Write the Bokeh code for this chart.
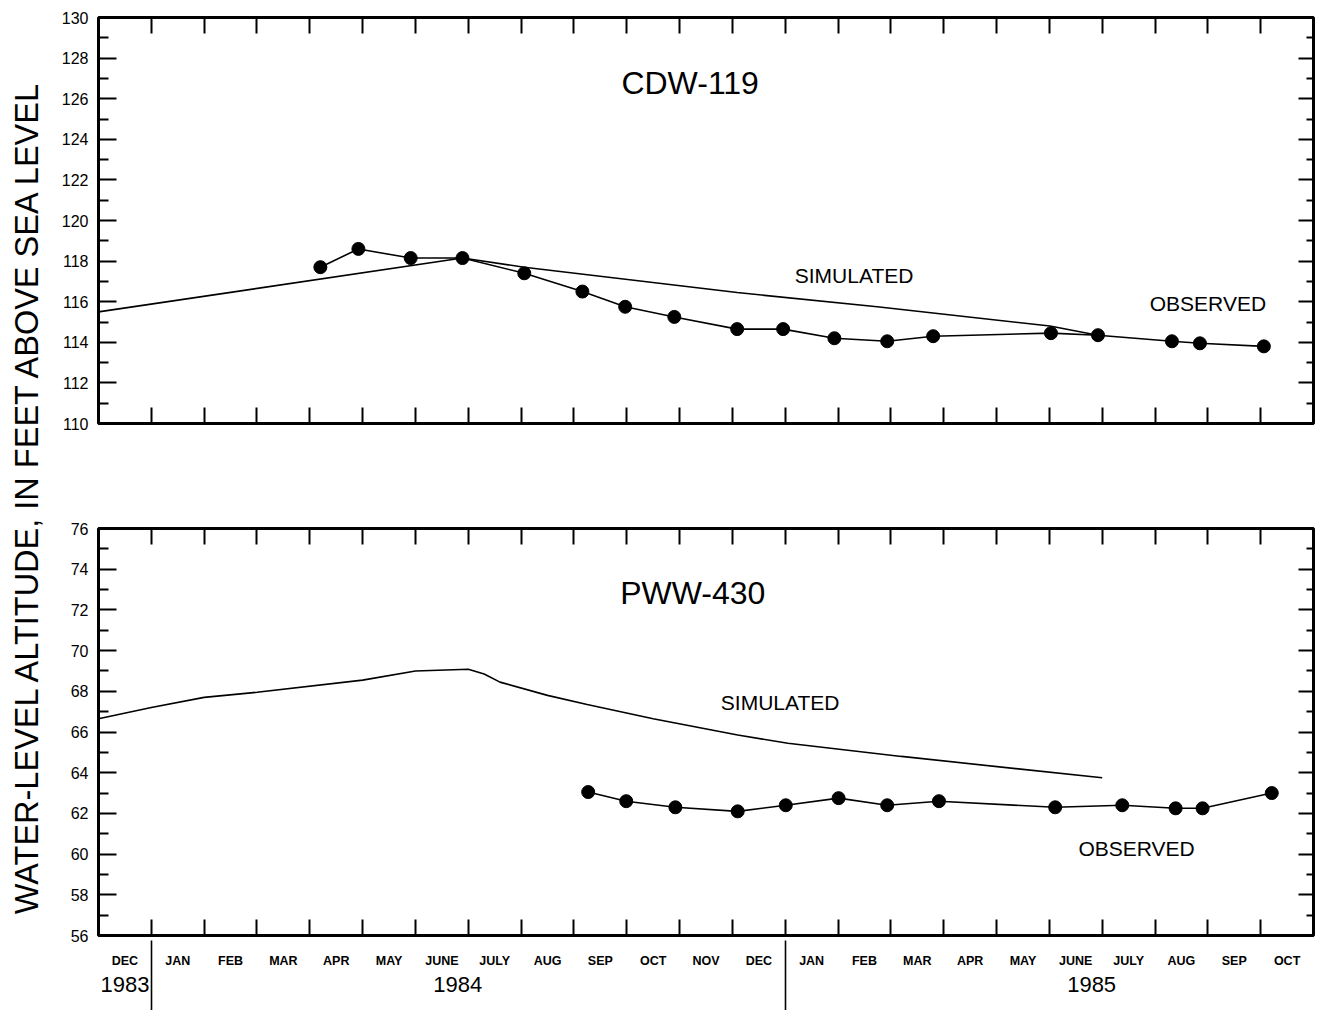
from math import pi
from bokeh.plotting import figure
from bokeh.layouts import row, column
from bokeh.models import Range1d, FixedTicker, LinearAxis, Label
from bokeh.embed import file_html
from bokeh.resources import INLINE

FONT = "Liberation Sans"

# ---- data (x = months after 1 Dec 1983) ----
month_labels = ["DEC", "JAN", "FEB", "MAR", "APR", "MAY", "JUNE", "JULY", "AUG", "SEP",
                "OCT", "NOV", "DEC", "JAN", "FEB", "MAR", "APR", "MAY", "JUNE", "JULY",
                "AUG", "SEP", "OCT"]
month_bounds = list(range(1, 23))
year_labels = ["1983", "1984", "1985"]
year_label_at = [0.5, 6.8, 18.8]
year_breaks = [1, 13]

cdw_obs_t = [4.20, 4.92, 5.91, 6.89, 8.06, 9.16, 9.97, 10.90, 12.09, 12.96, 13.93, 14.93,
             15.80, 18.03, 18.92, 20.32, 20.85, 22.06]
cdw_obs_v = [117.7, 118.6, 118.15, 118.15, 117.4, 116.5, 115.75, 115.25, 114.65, 114.65,
             114.2, 114.05, 114.3, 114.45, 114.35, 114.05, 113.95, 113.8]
cdw_sim_t = [0.0, 6.89, 8.06, 12.09, 14.74, 18.01, 18.92]
cdw_sim_v = [115.5, 118.15, 117.7, 116.45, 115.75, 114.8, 114.35]

pww_obs_t = [9.27, 9.99, 10.92, 12.10, 13.01, 14.01, 14.93, 15.91, 18.11, 19.38, 20.39,
             20.90, 22.21]
pww_obs_v = [63.05, 62.6, 62.3, 62.1, 62.4, 62.75, 62.4, 62.6, 62.3, 62.4, 62.25, 62.25, 63.0]
pww_sim_t = [0.0, 1.0, 2.0, 3.0, 5.0, 6.0, 7.0, 7.3, 7.6, 8.5, 9.25, 10.5, 12.1, 13.05,
             15.2, 19.0]
pww_sim_v = [66.65, 67.2, 67.7, 67.95, 68.55, 69.0, 69.08, 68.85, 68.45, 67.8, 67.35, 66.65,
             65.85, 65.45, 64.8, 63.75]

cdw_ticks = list(range(110, 131, 2))
cdw_minor = list(range(111, 130, 2))
pww_ticks = list(range(56, 77, 2))
pww_minor = list(range(57, 76, 2))

FRAME_W = 1215


def frame_x_axis(p, place, **kw):
    ax = LinearAxis(ticker=FixedTicker(ticks=[], minor_ticks=month_bounds),
                    axis_line_color=None, major_tick_in=0, major_tick_out=0,
                    minor_tick_in=16, minor_tick_out=0, minor_tick_line_width=2,
                    major_label_standoff=0, **kw)
    p.add_layout(ax, place)
    return ax


def make_panel(ticks, minor, frame_h, top, bottom):
    p = figure(frame_width=FRAME_W, frame_height=frame_h,
               x_range=Range1d(0, 23), y_range=Range1d(ticks[0], ticks[-1]),
               x_axis_location=None, y_axis_location=None,
               output_backend="svg", toolbar_location=None,
               min_border_left=48, min_border_right=8,
               min_border_top=top, min_border_bottom=bottom)
    p.xgrid.visible = False
    p.ygrid.visible = False
    p.outline_line_color = "black"
    p.outline_line_width = 3
    p.background_fill_color = "white"
    p.border_fill_color = "white"

    left = LinearAxis(ticker=FixedTicker(ticks=ticks, minor_ticks=minor),
                      axis_line_color=None, major_tick_in=18, major_tick_out=0,
                      minor_tick_in=10, minor_tick_out=0,
                      major_tick_line_width=2, minor_tick_line_width=2,
                      major_label_standoff=10,
                      major_label_text_font=FONT, major_label_text_font_size="16px",
                      major_label_text_color="black")
    p.add_layout(left, "left")
    right = LinearAxis(ticker=FixedTicker(ticks=ticks, minor_ticks=minor),
                       axis_line_color=None, major_tick_in=15, major_tick_out=0,
                       minor_tick_in=7, minor_tick_out=0,
                       major_tick_line_width=2, minor_tick_line_width=2,
                       major_label_standoff=0,
                       major_label_overrides={t: "" for t in ticks})
    p.add_layout(right, "right")
    frame_x_axis(p, "above")
    return p


def annotate(p, x, y, text, size):
    p.add_layout(Label(x=x, y=y, text=text, text_font=FONT, text_font_size=size,
                       text_align="left", text_baseline="middle", text_color="black"))


# ---- top panel: CDW-119 ----
p1 = make_panel(cdw_ticks, cdw_minor, 406, 17, 50)
frame_x_axis(p1, "below")
p1.line(cdw_sim_t, cdw_sim_v, line_color="black", line_width=1.6)
p1.line(cdw_obs_t, cdw_obs_v, line_color="black", line_width=1.6)
p1.scatter(cdw_obs_t, cdw_obs_v, size=13, color="black")
p1.add_layout(Label(x=11.2, y=126.75, text="CDW-119", text_font=FONT, text_font_size="32px",
                    text_align="center", text_baseline="middle", text_color="black"))
annotate(p1, 13.18, 117.3, "SIMULATED", "21px")
annotate(p1, 19.9, 115.9, "OBSERVED", "21px")

# ---- bottom panel: PWW-430 ----
p2 = make_panel(pww_ticks, pww_minor, 407, 55, 0)
months_axis = LinearAxis(
    ticker=FixedTicker(ticks=[i + 0.5 for i in range(len(month_labels))],
                       minor_ticks=month_bounds),
    axis_line_color=None, major_tick_in=0, major_tick_out=0,
    minor_tick_in=16, minor_tick_out=0, minor_tick_line_width=2,
    major_label_standoff=18,
    major_label_overrides={i + 0.5: m for i, m in enumerate(month_labels)},
    major_label_text_font=FONT, major_label_text_font_size="12.5px",
    major_label_text_font_style="bold", major_label_text_color="black")
p2.add_layout(months_axis, "below")
years_axis = LinearAxis(
    ticker=FixedTicker(ticks=year_label_at),
    axis_line_color=None, major_tick_in=0, major_tick_out=0,
    major_label_standoff=6,
    major_label_overrides={t: y for t, y in zip(year_label_at, year_labels)},
    major_label_text_font=FONT, major_label_text_font_size="22px",
    major_label_text_color="black")
p2.add_layout(years_axis, "below")
break_axis = LinearAxis(
    ticker=FixedTicker(ticks=year_breaks),
    axis_line_color=None, major_tick_in=54, major_tick_out=16,
    major_tick_line_width=1.6, major_label_standoff=0,
    major_label_overrides={t: "" for t in year_breaks})
p2.add_layout(break_axis, "below")

p2.line(pww_sim_t, pww_sim_v, line_color="black", line_width=1.6)
p2.line(pww_obs_t, pww_obs_v, line_color="black", line_width=1.6)
p2.scatter(pww_obs_t, pww_obs_v, size=13, color="black")
p2.add_layout(Label(x=11.25, y=72.85, text="PWW-430", text_font=FONT, text_font_size="32px",
                    text_align="center", text_baseline="middle", text_color="black"))
annotate(p2, 11.78, 67.47, "SIMULATED", "21px")
annotate(p2, 18.55, 60.26, "OBSERVED", "21px")

# ---- shared y-axis title ----
pt = figure(width=50, height=1015, x_range=Range1d(0, 1), y_range=Range1d(0, 1),
            x_axis_location=None, y_axis_location=None,
            output_backend="svg", toolbar_location=None, min_border=0)
pt.xgrid.visible = False
pt.ygrid.visible = False
pt.outline_line_color = None
pt.add_layout(Label(x=26, y=520, x_units="screen", y_units="screen", angle=pi / 2,
                    text="WATER-LEVEL ALTITUDE, IN FEET ABOVE SEA LEVEL",
                    text_font=FONT, text_font_size="32.5px", text_align="center",
                    text_baseline="middle", text_color="black"))

layout = row(pt, column(p1, p2, spacing=0), spacing=0)

open("out.html", "w").write(file_html(layout, INLINE))
